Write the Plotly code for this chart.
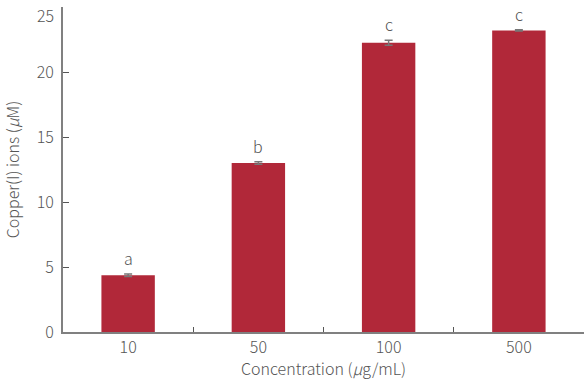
import plotly.graph_objects as go

categories = ["10", "50", "100", "500"]
values = [4.36, 13.0, 22.25, 23.2]
errors = [0.1, 0.1, 0.2, 0.05]
letters = ["a", "b", "c", "c"]
y_ticks = [0, 5, 10, 15, 20, 25]

FONT = "Noto Sans CJK KR"
GRAY = "#555555"
AXIS = "#808080"
FS = 16

fig = go.Figure()
fig.add_trace(go.Bar(
    x=categories, y=values,
    marker=dict(color="#B12839", line=dict(width=0)),
    error_y=dict(type="data", array=errors, color="#777777", thickness=1.5, width=4),
    width=0.41,
))

for i, (v, e, t) in enumerate(zip(values, errors, letters)):
    fig.add_annotation(x=i, y=v + e, text=t, showarrow=False, yanchor="bottom",
                       yshift=2, font=dict(family=FONT, size=FS, color=GRAY, weight=300))

# top tick label drawn slightly lower so it stays inside the page (as in the reference)
tick_text = [str(v) for v in y_ticks[:-1]] + [""]
fig.add_annotation(xref="paper", x=0, xanchor="right", xshift=-7, yref="y", y=y_ticks[-1],
                   yanchor="top", yshift=6, text=str(y_ticks[-1]), showarrow=False,
                   font=dict(family=FONT, size=FS, color=GRAY, weight=300))

fig.update_layout(
    width=585, height=380,
    margin=dict(l=63, r=1, t=7, b=48, autoexpand=False),
    paper_bgcolor="white", plot_bgcolor="white",
    showlegend=False,
    font=dict(family=FONT, size=FS, color=GRAY, weight=300),
)
fig.update_xaxes(
    type="category", range=[-0.5, 3.5], tickson="boundaries", ticks="inside", ticklen=5, tickwidth=1.2,
    tickcolor="#555555", showline=True, linecolor=AXIS, linewidth=2,
    showgrid=False, zeroline=False, automargin=False,
    title=dict(text="Concentration (<i>μ</i>g/mL)", standoff=1,
               font=dict(family=FONT, size=FS, color=GRAY, weight=300)),
    tickfont=dict(family=FONT, size=FS, color=GRAY, weight=300),
)
fig.update_yaxes(
    range=[0, 25], tickvals=y_ticks, ticktext=tick_text, ticks="inside", ticklen=6, tickwidth=1.2,
    tickcolor="#555555", showline=True, linecolor=AXIS, linewidth=2,
    showgrid=False, zeroline=False, automargin=False, ticklabelstandoff=4,
    ticklabeloverflow="allow",
    title=dict(text="Copper(I) ions (<i>μ</i>M)", standoff=16,
               font=dict(family=FONT, size=FS, color=GRAY, weight=300)),
    tickfont=dict(family=FONT, size=FS, color=GRAY, weight=300),
)

fig.write_html("out.html", config={"displayModeBar": False},
               post_script="document.body.style.margin='0';document.body.style.padding='0';")
